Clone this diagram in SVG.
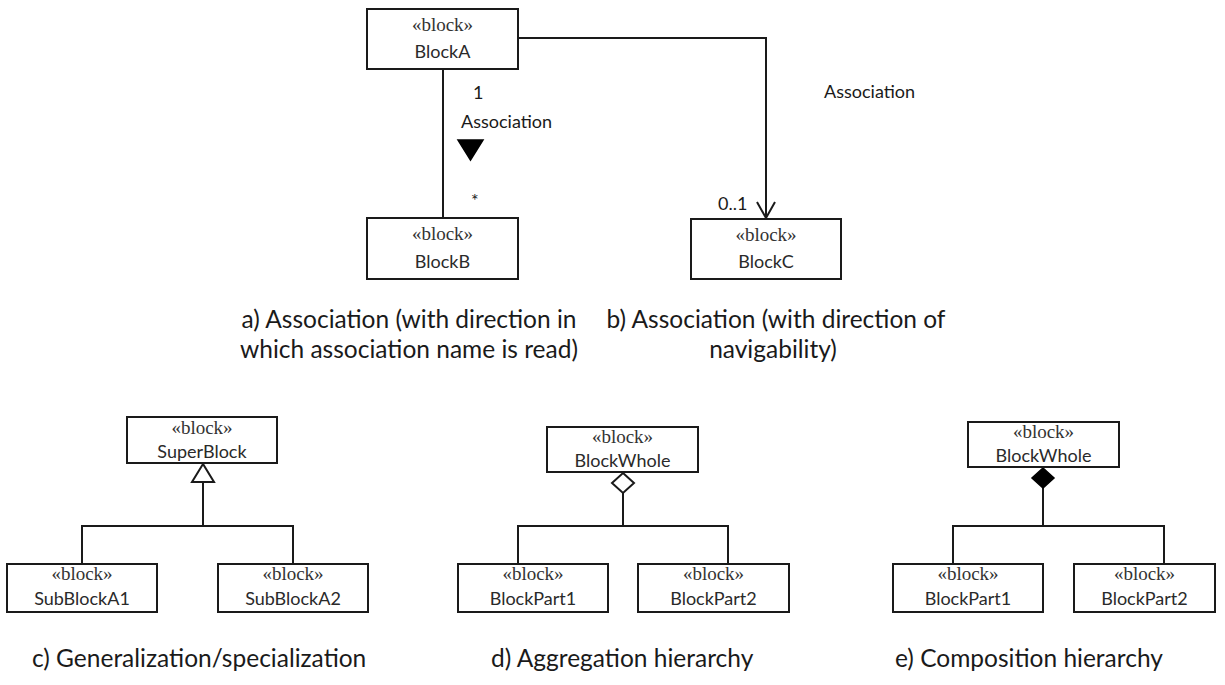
<svg xmlns="http://www.w3.org/2000/svg" width="1225" height="685" viewBox="0 0 1225 685">
  <style>
    .box { fill: #ffffff; stroke: #1a1a1a; stroke-width: 2; }
    .wire { fill: none; stroke: #1a1a1a; stroke-width: 2; }
    .hollow { fill: #ffffff; stroke: #1a1a1a; stroke-width: 2; stroke-linejoin: miter; }
    .solid { fill: #000000; stroke: #000000; stroke-width: 1.5; }
    .stereo { font-family: "Liberation Serif", serif; font-size: 19px; fill: #333333; text-anchor: middle; }
    .name { font-family: Lato, "Liberation Sans", sans-serif; font-size: 18px; fill: #2a2a2a; text-anchor: middle; }
    .lbl { font-family: Lato, "Liberation Sans", sans-serif; font-size: 18px; fill: #1a1a1a; }
    .cap { font-family: Lato, "Liberation Sans", sans-serif; font-size: 24.5px; fill: #1a1a1a; }
  </style>
  <rect width="1225" height="685" fill="#ffffff"/>

  <!-- connectors -->
  <g id="connectors">
    <!-- a) association BlockA - BlockB -->
    <line class="wire" x1="443" y1="69" x2="443" y2="218"/>
    <polygon class="solid" points="458,140 483,140 470.5,160"/>
    <!-- b) navigable association BlockA -> BlockC -->
    <polyline class="wire" points="518,38 766,38 766,218"/>
    <polyline class="wire" points="757,202 766,218 775,202"/>
    <!-- c) generalization -->
    <polyline class="wire" points="82,564 82,526 293,526 293,564"/>
    <line class="wire" x1="203" y1="526" x2="203" y2="482"/>
    <polygon class="hollow" points="203,464 192,482 214,482"/>
    <!-- d) aggregation -->
    <polyline class="wire" points="518,564 518,526 728,526 728,564"/>
    <line class="wire" x1="623" y1="526" x2="623" y2="493"/>
    <polygon class="hollow" points="623,473 634,483 623,493 612,483"/>
    <!-- e) composition -->
    <polyline class="wire" points="953,564 953,526 1164,526 1164,564"/>
    <line class="wire" x1="1043" y1="526" x2="1043" y2="488"/>
    <polygon class="solid" points="1043,468 1054,478 1043,488 1032,478"/>
  </g>

  <!-- connector labels -->
  <g id="labels">
    <text class="lbl" x="473" y="99">1</text>
    <text class="lbl" x="461" y="128">Association</text>
    <text class="lbl" x="471" y="207">*</text>
    <text class="lbl" x="824" y="98">Association</text>
    <text class="lbl" x="718" y="210">0..1</text>
  </g>

  <g id="blockA">
    <rect class="box" x="367" y="9" width="151" height="60"/>
    <text class="stereo" x="442.5" y="31">«block»</text>
    <text class="name" x="442.5" y="58">BlockA</text>
  </g>
  <g id="blockB">
    <rect class="box" x="367" y="218" width="151" height="61"/>
    <text class="stereo" x="442.5" y="240">«block»</text>
    <text class="name" x="442.5" y="268">BlockB</text>
  </g>
  <g id="blockC">
    <rect class="box" x="691" y="219" width="150" height="60"/>
    <text class="stereo" x="766" y="241">«block»</text>
    <text class="name" x="766" y="268">BlockC</text>
  </g>

  <g id="superBlock">
    <rect class="box" x="127" y="417" width="150" height="46"/>
    <text class="stereo" x="202" y="434">«block»</text>
    <text class="name" x="202" y="458">SuperBlock</text>
  </g>
  <g id="subBlockA1">
    <rect class="box" x="7" y="564" width="150" height="48"/>
    <text class="stereo" x="82" y="580">«block»</text>
    <text class="name" x="82" y="605">SubBlockA1</text>
  </g>
  <g id="subBlockA2">
    <rect class="box" x="218" y="564" width="150" height="48"/>
    <text class="stereo" x="293" y="580">«block»</text>
    <text class="name" x="293" y="605">SubBlockA2</text>
  </g>

  <g id="blockWholeAgg">
    <rect class="box" x="547" y="427" width="151" height="45"/>
    <text class="stereo" x="622.5" y="443">«block»</text>
    <text class="name" x="622.5" y="467">BlockWhole</text>
  </g>
  <g id="blockPart1Agg">
    <rect class="box" x="458" y="564" width="150" height="48"/>
    <text class="stereo" x="533" y="580">«block»</text>
    <text class="name" x="533" y="605">BlockPart1</text>
  </g>
  <g id="blockPart2Agg">
    <rect class="box" x="638" y="564" width="151" height="48"/>
    <text class="stereo" x="713.5" y="580">«block»</text>
    <text class="name" x="713.5" y="605">BlockPart2</text>
  </g>

  <g id="blockWholeComp">
    <rect class="box" x="968" y="422" width="151" height="45"/>
    <text class="stereo" x="1043.5" y="438">«block»</text>
    <text class="name" x="1043.5" y="462">BlockWhole</text>
  </g>
  <g id="blockPart1Comp">
    <rect class="box" x="893" y="564" width="150" height="48"/>
    <text class="stereo" x="968" y="580">«block»</text>
    <text class="name" x="968" y="605">BlockPart1</text>
  </g>
  <g id="blockPart2Comp">
    <rect class="box" x="1074" y="564" width="141" height="48"/>
    <text class="stereo" x="1144.5" y="580">«block»</text>
    <text class="name" x="1144.5" y="605">BlockPart2</text>
  </g>

  <!-- captions -->
  <g id="captions">
    <text class="cap" x="409" y="328" text-anchor="middle">a) Association (with direction in</text>
    <text class="cap" x="409" y="358" text-anchor="middle">which association name is read)</text>
    <text class="cap" x="776" y="328" text-anchor="middle">b) Association (with direction of</text>
    <text class="cap" x="773" y="358" text-anchor="middle">navigability)</text>
    <text class="cap" x="32" y="667">c) Generalization/specialization</text>
    <text class="cap" x="491" y="667">d) Aggregation hierarchy</text>
    <text class="cap" x="895" y="667">e) Composition hierarchy</text>
  </g>
</svg>
